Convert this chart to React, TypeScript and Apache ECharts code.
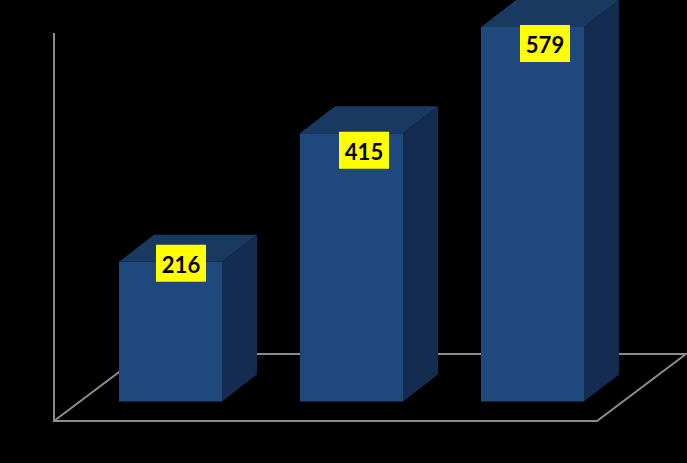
import React, { useEffect, useRef } from "react";
import * as echarts from "echarts";

const categories = ["A", "B", "C"];
const values = [216, 415, 579];

const BAR_W = 103;
const DX = 35;
const DY = 27;
const labelOffsetX = [10.5, 12.5, 12.5];
const labelOffsetY = [1.5, 17, 16.5];

const FRONT = "#1f497d";
const TOP = "#1a3961";
const SIDE = "#142c4f";
const AXIS = "#8c8c8c";

export default function App() {
  const ref = useRef<HTMLDivElement>(null);
  useEffect(() => {
    document.body.style.margin = "0";
    document.body.style.background = "#000";
    const chart = echarts.init(ref.current!, null, { renderer: "svg" });
    chart.setOption({
      animation: false,
      backgroundColor: "#000000",
      grid: { left: 80, top: 13.5, width: 543, height: 388 },
      xAxis: { type: "category", data: categories, show: false },
      yAxis: { type: "value", min: 0, max: 600, show: false },
      graphic: [
        {
          type: "polyline",
          z: -1,
          shape: { points: [[54, 33], [54, 421], [597, 421], [686, 354], [143, 354], [54, 421]] },
          style: { fill: "none", stroke: AXIS, lineWidth: 2 },
        },
      ],
      series: [
        {
          type: "custom",
          data: values.map((v, i) => [i, v]),
          encode: { x: 0, y: 1 },
          clip: false,
          z: 5,
          renderItem: (params: any, api: any) => {
            const i = api.value(0);
            const v = api.value(1);
            const [cx, y] = api.coord([i, v]);
            const [, y0] = api.coord([i, 0]);
            const l = cx - BAR_W / 2;
            const r = cx + BAR_W / 2;
            const lx = cx + labelOffsetX[params.dataIndex];
            const ly = y + labelOffsetY[params.dataIndex];
            return {
              type: "group",
              children: [
                { type: "rect", shape: { x: l, y, width: BAR_W, height: y0 - y }, style: { fill: FRONT } },
                { type: "polygon", shape: { points: [[l, y], [r, y], [r + DX, y - DY], [l + DX, y - DY]] }, style: { fill: TOP } },
                { type: "polygon", shape: { points: [[r, y], [r + DX, y - DY], [r + DX, y0 - DY], [r, y0]] }, style: { fill: SIDE } },
                { type: "rect", shape: { x: lx - 25, y: ly - 18.5, width: 50, height: 37 }, style: { fill: "#ffff00" } },
                {
                  type: "text",
                  x: lx,
                  y: ly + 1,
                  style: {
                    text: String(v),
                    fill: "#000000",
                    font: "bold 22px Lato",
                    align: "center",
                    verticalAlign: "middle",
                  },
                },
              ],
            };
          },
        },
      ],
    });
    return () => chart.dispose();
  }, []);
  return <div ref={ref} style={{ width: 687, height: 463 }} />;
}
